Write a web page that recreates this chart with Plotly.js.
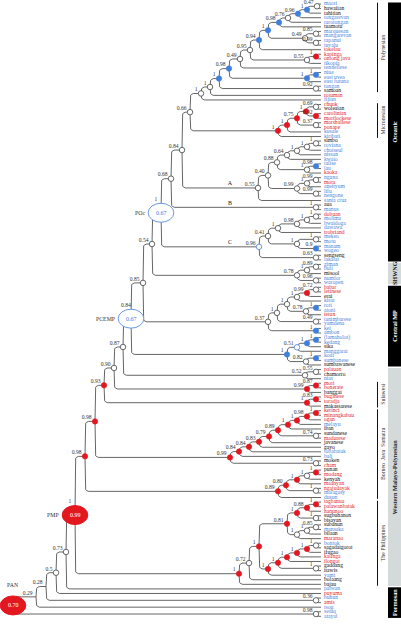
<!DOCTYPE html>
<html><head><meta charset="utf-8">
<script src="https://cdn.plot.ly/plotly-3.0.1.min.js"></script>
<style>html,body{margin:0;padding:0;background:#fff}#chart{width:401px;height:625px}</style>
</head><body><div id="chart"></div>
<script>
// ---------- DATA ----------
const leafNames = ['maori','hawaiian','tahitian','tongarevan','rarotongan','tuamotu','marquesan','mangarevan','rapanui','tuvalu',
'tokelau','kapinga','ontong java','tikopia','rennellese','niue','east uvea','east futuna','tongan','samoan',
'rotuman','fijian','chuuk','woleaian','carolinian','mortlockese','marshallese','ponape','kusaie','kiribati',
'simbo','roviana','choiseul','nissan','kwaio','talise','lau','kaoka','nguna','mota',
'aneityum','lifu','nengone','santa cruz','aua','manus','dobuan','molima','bwaidoga','dawawa',
'trobriand','mekeo','motu','manam','wogeo','sengseng','lakalai','giman','buli','misool',
'numfor','waropen','babar','letinese','erai','kisar','roti','atoni','tetun','tanimbarese',
'yamdena','kei','ambon','(lamaholot)','kedang','sika','manggarai','kodi','sumbanese','sumbawanese',
'palauan','chamorro','nias','mori','bonerate','banggai','buginese','toradja','makassarese','kerinci',
'minangkabau','ogan','melayu','iban','sundanese','madurese','javanese','gayo','tobabatak','bali',
'moken','cham','punan','modang','kenyah','maanyan','ngajudayak','malagasy','dusun','tagbanua',
'palawanbatak','hanunoo','sugbuhanon','bisayan','subanun','mansaka','bilaan','maranao','bontok','sagadaigorot',
'ifugao','kalinga','ilongot','gaddang','itawis','yami','bolaang','bajau','paiwan','puyuma',
'bunun','amis','tsou','sediq','atayal'];
// b = blue, r = red, k = black
const leafColorCodes = ('bkkbbkbbbb'+'rrrbbbbbbk'+'rbrkrrrrbb'+'kbbbbbbrbr'+'bbbbkbrbbb'+
  'rbbbbkbbbk'+'bbrrkbbbrb'+'bbbbbkbbbk'+'rkbrrkrrkr'+'rrbkkrkkbb'+'krkrkrrbbr'+'rrkkkbkrbk'+'krrkkbkkbr'+'brbbb').split('');

// internal nodes (children first): [node, child A, child B, support, depth, marker]
const nodes = [
['a1','maori','hawaiian','0.47',317,'o'],
['a2','a1','tahitian','1',307,'b'],
['a3','a2','tongarevan','0.96',298,'b'],
['a4','a3','rarotongan','0.76',288,'o'],
['a5','a4','tuamotu','0.98',279,'b'],
['a6m','marquesan','mangarevan','0.85',316,'o'],
['a6r','rapanui','tuvalu','0.99',316,'o'],
['a6b','a6m','a6r','0.49',305,'o'],
['a6','a5','a6b','1',268,'b'],
['a7','a6','tokelau','0.94',259,'b'],
['a8k','kapinga','ontong java','1',316,'r'],
['a8w','a8k','tikopia','0.55',307,'o'],
['a8','a7','a8w','0.95',250,'o'],
['a9','a8','rennellese','0.49',240,'o'],
['a10n','niue','east uvea','1',316,'b'],
['a10f','a10n','east futuna','1',307,'b'],
['a10','a9','a10f','0.98',229,'b'],
['a11t','tongan','samoan','0.92',316,'o'],
['a11','a10','a11t','1',219,'b'],
['a12','a11','rotuman','1',210,'o'],
['a13','a12','fijian','1',201,'o'],
['m1','chuuk','woleaian','0.69',316,'o'],
['m2','carolinian','mortlockese','0.92',316,'r'],
['m3','m1','m2','1',306,'r'],
['m4','marshallese','ponape','0.37',316,'o'],
['m5','m3','m4','0.75',297,'r'],
['m6','m5','kusaie','1',287,'r'],
['m7','m6','kiribati','1',278,'r'],
['a14','a13','m7','0.66',190,'o'],
['b1','simbo','roviana','1',316,'o'],
['b2','b1','choiseul','1',307,'o'],
['b3','b2','nissan','1',297,'o'],
['b4','b3','kwaio','0.64',287,'o'],
['b5','talise','lau','0.98',316,'b'],
['b6','b5','kaoka','1',307,'o'],
['b7','b4','b6','0.88',277,'o'],
['c1','nguna','mota','0.99',316,'o'],
['c2','c1','aneityum','1',307,'o'],
['c3','lifu','nengone','0.99',316,'o'],
['c4','c2','c3','0.99',297,'o'],
['c5','b7','c4','0.40',268,'o'],
['c6','c5','santa cruz','0.55',258,'o'],
['n084','a14','c6','0.84',182,'o'],
['nB','aua','manus','1',316,'o'],
['n068','n084','nB','0.68',171,'o'],
['d1','dobuan','molima','1',316,'o'],
['d2','d1','bwaidoga','1',307,'o'],
['d3','d2','dawawa','0.98',297,'o'],
['d4','d3','trobriand','1',278,'o'],
['e1','mekeo','motu','1',316,'o'],
['e2','manam','wogeo','0.9',316,'b'],
['e3','e1','e2','1',297,'o'],
['d5','d4','e3','0.41',268,'o'],
['s0','sengseng','lakalai','0.63',316,'o'],
['nC','d5','s0','0.96',259,'ob'],
['POc','n068','nC','1',161,'E'],
['g1','giman','buli','0.89',316,'o'],
['g2','g1','misool','1',307,'o'],
['g3','numfor','waropen','0.96',316,'o'],
['g4','g2','g3','0.78',297,'o'],
['n054','POc','g4','0.54',152,'o'],
['f1','babar','letinese','0.72',316,'o'],
['f2','f1','erai','0.99',307,'r'],
['f3','f2','kisar','1',297,'o'],
['f4a','roti','atoni','1',316,'b'],
['f4','f4a','tetun','0.78',306,'o'],
['f5','f3','f4','1',287,'o'],
['f6','tanimbarese','yamdena','0.49',316,'o'],
['h0','f5','f6','1',277,'o'],
['h1','kei','ambon','1',316,'b'],
['cmp','h0','h1','0.37',268,'o'],
['n085','n054','cmp','0.85',143,'o'],
['i1','(lamaholot)','kedang','1',316,'b'],
['i2','i1','sika','1',307,'b'],
['i3','i2','manggarai','0.51',297,'ob'],
['i4','kodi','sumbanese','1',316,'b'],
['i5','i4','sumbawanese','0.82',306,'o'],
['i6','i3','i5','1',287,'b'],
['PCEMP','n085','i6','0.84',131,'E'],
['j1','palauan','chamorro','0.55',316,'o'],
['j2','j1','nias','0.52',305,'o'],
['n087','PCEMP','j2','0.87',123,'o'],
['k1','mori','bonerate','0.87',316,'r'],
['k2','k1','banggai','0.99',307,'r'],
['n090','n087','k2','0.90',114,'o'],
['l1','buginese','toradja','0.83',316,'r'],
['l2','l1','makassarese','1',307,'r'],
['n093','n090','l2','0.93',104,'r'],
['p1','kerinci','minangkabau','1',316,'r'],
['p2','p1','ogan','0.98',307,'r'],
['p3','p2','melayu','1',297,'r'],
['p4','p3','iban','1',288,'r'],
['p45','sundanese','madurese','0.74',316,'o'],
['p5','p4','p45','0.89',278,'r'],
['p6','p5','javanese','0.79',269,'r'],
['p7','p6','gayo','0.83',259,'r'],
['p8','p7','tobabatak','0.84',249,'r'],
['p9','p8','bali','0.84',239,'r'],
['pm','moken','cham','0.73',316,'o'],
['p10','p9','pm','0.99',230,'r'],
['n098a','n093','p10','0.98',95,'r'],
['q1','punan','modang','1',316,'r'],
['q2','q1','kenyah','1',307,'o'],
['q4','q2','maanyan','1',297,'r'],
['q3','ngajudayak','malagasy','1',316,'o'],
['q5','q4','q3','0.80',286,'r'],
['q6','q5','dusun','0.89',278,'r'],
['n098b','n098a','q6','0.98',85,'r'],
['r1','tagbanua','palawanbatak','1',316,'r'],
['r2','r1','hanunoo','0.88',307,'r'],
['r3','sugbuhanon','bisayan','1',316,'o'],
['r4','r2','r3','1',297,'r'],
['u1','subanun','mansaka','0.85',316,'o'],
['u2','u1','bilaan','1',307,'o'],
['u3','u2','maranao','1',297,'o'],
['v','r4','u3','0.81',287,'r'],
['s1','bontok','sagadaigorot','1',316,'o'],
['s2','s1','ifugao','1',307,'r'],
['s3','s2','kalinga','1',297,'r'],
['s4','s3','ilongot','1',287,'r'],
['gi','gaddang','itawis','1',316,'o'],
['s5','s4','gi','1',278,'r'],
['w','s5','yami','1',268,'r'],
['t','v','w','1',259,'r'],
['n072','t','bolaang','0.72',249,'o'],
['R','n072','bajau','1',239,'r'],
['PMP','n098b','R','1',75,'E'],
['n073','PMP','paiwan','0.73',66,'o'],
['n05','n073','puyuma','0.5',56,'o'],
['ba','bunun','amis','0.36',316,'o'],
['n028','n05','ba','0.28',46,''],
['n029','n028','tsou','0.29',36,''],
['sa','sediq','atayal','0.98',316,'o'],
['PAN','n029','sa','',13,'E']
];

// reconstructed ancestral nodes drawn as ellipses
const ellipseNodes  = ['POc','PCEMP','PMP','PAN'];
const ellipseValues = ['0.67','0.67','0.99','0.70'];
// letters written on branches (branch leading into the given node)
const branchTags  = ['A','B','C'];
const branchNodes = ['c6','nB','nC'];

// right-hand group bars
const topGroupNames = ['Oceanic','SHWNG','Central MP','Western Malayo-Polynesian','Formosan'];
const topGroupFirst = ['maori','giman','babar','palauan','paiwan'];
const topGroupLast  = ['lakalai','waropen','sumbawanese','bajau','atayal'];
const subGroupNames = ['Polynesian','Micronesian','Sulawesi','Borneo  Java  Sumatra','The Philippines'];
const subGroupFirst = ['maori','chuuk','mori','kerinci','tagbanua'];
const subGroupLast  = ['samoan','kiribati','makassarese','dusun','bajau'];

// ---------- STYLE / LAYOUT ----------
const W = 401, H = 625;
const Y0 = -0.875, Y1 = 135.9;          // leaf index range mapped to the page
const K = H / (Y1 - Y0);                 // px per leaf unit
const TIP = 321, RAD = 4;
const FONT = 'Liberation Serif, Times New Roman, serif';
const BLUE = '#3f7fdc', RED = '#e3171f', TXTBLUE = '#4a86da', TXTRED = '#e0262c';
const LINE = '#555555';

const pos = {};
leafNames.forEach((n, i) => { pos[n] = {x: TIP, y: i}; });
nodes.forEach(([n, a, b, s, d]) => { pos[n] = {x: d, y: (pos[a].y + pos[b].y) / 2}; });

// branches with rounded corners
const bx = [], by = [];
nodes.forEach(([n, a, b]) => {
  const p = pos[n];
  [a, b].forEach(c => {
    const q = pos[c];
    const dyPx = (q.y - p.y) * K;
    const dir = Math.sign(dyPx);
    const r = Math.min(RAD, Math.abs(dyPx), q.x - p.x);
    const cyPx = q.y * K;
    bx.push(p.x); by.push(p.y);
    for (let s = 0; s <= 8; s++) {
      const th = Math.PI / 2 * s / 8;
      bx.push(p.x + r - r * Math.cos(th));
      by.push((cyPx - dir * r + dir * r * Math.sin(th)) / K);
    }
    bx.push(q.x); by.push(q.y);
    bx.push(null); by.push(null);
  });
});

const traces = [];
traces.push({type: 'scatter', mode: 'lines', x: bx, y: by, line: {color: LINE, width: 0.9}, hoverinfo: 'skip'});

// node markers
const markerStyles = {
  o:  {color: '#ffffff', line: {color: '#444', width: 0.8}},
  ob: {color: '#ffffff', line: {color: '#5a8fdc', width: 0.9}},
  b:  {color: BLUE, line: {color: BLUE, width: 0.5}},
  r:  {color: RED, line: {color: RED, width: 0.5}}
};
Object.keys(markerStyles).forEach(m => {
  const sel = nodes.filter(nd => nd[5] === m);
  traces.push({type: 'scatter', mode: 'markers', x: sel.map(nd => pos[nd[0]].x), y: sel.map(nd => pos[nd[0]].y),
    marker: Object.assign({size: 5.5, symbol: 'circle'}, markerStyles[m]), hoverinfo: 'skip'});
});

// support values
const sup = nodes.filter(nd => nd[3] !== '' && nd[5] !== 'E');
traces.push({type: 'scatter', mode: 'text', x: sup.map(nd => pos[nd[0]].x - 3.5), y: sup.map(nd => pos[nd[0]].y - 3.6 / K),
  text: sup.map(nd => nd[3]), textposition: 'middle left', textfont: {family: FONT, size: 5.6, color: '#333'}, hoverinfo: 'skip'});
const supE = nodes.filter(nd => nd[3] !== '' && nd[5] === 'E');
traces.push({type: 'scatter', mode: 'text', x: supE.map(nd => pos[nd[0]].x - 5), y: supE.map(nd => pos[nd[0]].y - 13.5 / K),
  text: supE.map(nd => nd[3]), textposition: 'middle center', textfont: {family: FONT, size: 5.6, color: '#333'}, hoverinfo: 'skip'});

// leaf labels
const colMap = {b: TXTBLUE, r: TXTRED, k: '#111'};
traces.push({type: 'scatter', mode: 'text', x: leafNames.map(() => TIP + 3), y: leafNames.map((n, i) => i),
  text: leafNames, textposition: 'middle right',
  textfont: {family: FONT, size: 5.6, color: leafColorCodes.map(c => colMap[c])}, hoverinfo: 'skip'});

// branch tags A/B/C
traces.push({type: 'scatter', mode: 'text', x: branchNodes.map(() => 230), y: branchNodes.map(n => pos[n].y - 4 / K),
  text: branchTags, textposition: 'middle center', textfont: {family: FONT, size: 6, color: '#222'}, hoverinfo: 'skip'});

const shapes = [], annotations = [];
// ellipses
ellipseNodes.forEach((n, i) => {
  const p = pos[n];
  const red = (n === 'PMP' || n === 'PAN');
  shapes.push({type: 'circle', xref: 'x', yref: 'y', x0: p.x - 12.8, x1: p.x + 12.8, y0: p.y - 9.5 / K, y1: p.y + 9.5 / K,
    fillcolor: red ? RED : '#ffffff', line: {color: red ? RED : '#6a9ae0', width: 1}, layer: 'above'});
  annotations.push({x: p.x, y: p.y, xref: 'x', yref: 'y', text: ellipseValues[i], showarrow: false,
    font: {family: FONT, size: 6, color: red ? '#ffffff' : '#3f7fdc'}});
  if (n === 'PAN') {
    annotations.push({x: p.x, y: p.y - 20 / K, xref: 'x', yref: 'y', text: n, showarrow: false,
      font: {family: FONT, size: 5.8, color: '#333'}});
  } else {
    annotations.push({x: p.x - 14.5, y: p.y, xref: 'x', yref: 'y', text: n, showarrow: false, xanchor: 'right',
      font: {family: FONT, size: 5.8, color: '#333'}});
  }
});

// top level bars
const leafIdx = n => leafNames.indexOf(n);
topGroupNames.forEach((g, i) => {
  const a = leafIdx(topGroupFirst[i]) - 0.35, b = leafIdx(topGroupLast[i]) + 0.35;
  const grey = (i % 2 === 1);
  shapes.push({type: 'rect', xref: 'x', yref: 'y', x0: 388, x1: 401, y0: a, y1: b,
    fillcolor: grey ? '#d4dada' : '#000000', line: {width: 0}, layer: 'below'});
  annotations.push({x: 394.5, y: (a + b) / 2, xref: 'x', yref: 'y', text: '<b>' + g + '</b>', textangle: -90, showarrow: false,
    font: {family: FONT, size: 6.2, color: grey ? '#222' : '#ffffff'}});
});
subGroupNames.forEach((g, i) => {
  const a = leafIdx(subGroupFirst[i]) - 0.3, b = leafIdx(subGroupLast[i]) + 0.3;
  shapes.push({type: 'line', xref: 'x', yref: 'y', x0: 377.5, x1: 377.5, y0: a, y1: b, line: {color: '#111', width: 1}});
  annotations.push({x: 383, y: (a + b) / 2, xref: 'x', yref: 'y', text: g, textangle: -90, showarrow: false,
    font: {family: FONT, size: 5.8, color: '#333'}});
});

const layout = {
  width: W, height: H, margin: {l: 0, r: 0, t: 0, b: 0},
  xaxis: {range: [0, W], visible: false, fixedrange: true},
  yaxis: {range: [Y1, Y0], visible: false, fixedrange: true},
  showlegend: false, paper_bgcolor: '#ffffff', plot_bgcolor: '#ffffff', hovermode: false,
  shapes: shapes, annotations: annotations
};
Plotly.newPlot('chart', traces, layout, {staticPlot: true, displayModeBar: false});
</script>
</body></html>
